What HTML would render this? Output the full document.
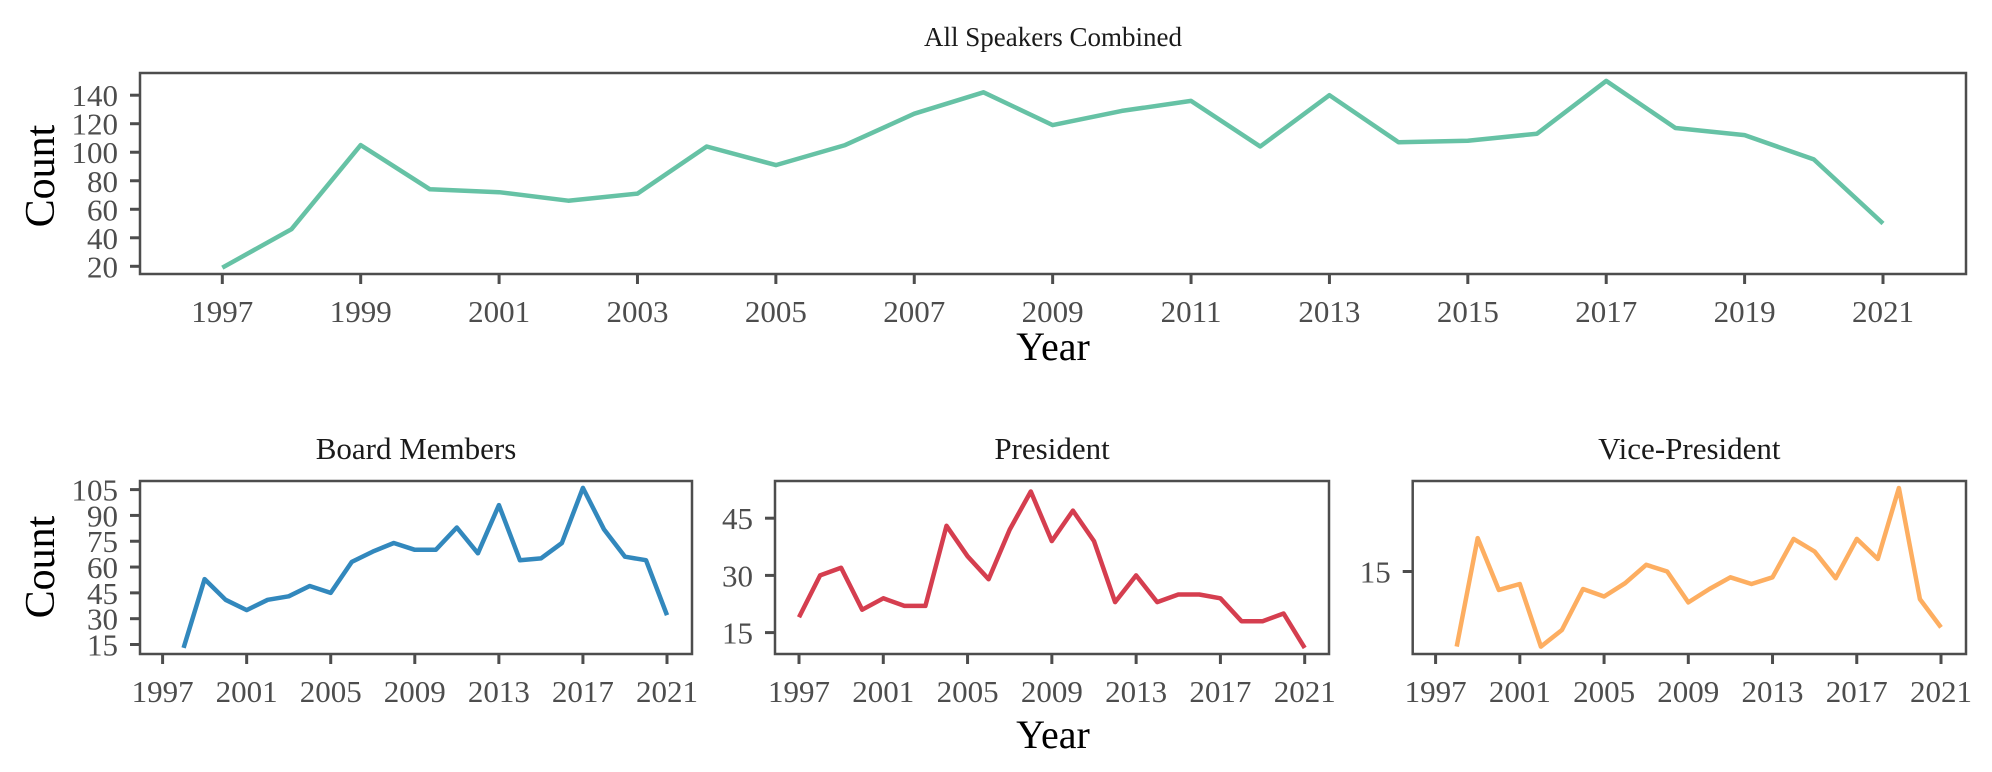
<!DOCTYPE html>
<html><head><meta charset="utf-8"><style>
body{margin:0;background:#fff}
svg{display:block;font-family:"Liberation Serif",serif}
</style></head><body>
<svg id="c" width="1992" height="772" viewBox="0 0 1992 772" xmlns="http://www.w3.org/2000/svg"></svg>
<script>
const years = [1997,1998,1999,2000,2001,2002,2003,2004,2005,2006,2007,2008,2009,2010,2011,2012,2013,2014,2015,2016,2017,2018,2019,2020,2021];
const allValues = [19,46,105,74,72,66,71,104,91,105,127,142,119,129,136,104,140,107,108,113,150,117,112,95,50];
const boardYears = [1998,1999,2000,2001,2002,2003,2004,2005,2006,2007,2008,2009,2010,2011,2012,2013,2014,2015,2016,2017,2018,2019,2020,2021];
const boardValues = [13,53,41,35,41,43,49,45,63,69,74,70,70,83,68,96,64,65,74,106,82,66,64,32];
const presValues = [19,30,32,21,24,22,22,43,35,29,42,52,39,47,39,23,30,23,25,25,24,18,18,20,11];
const viceYears = boardYears;
const viceValues = [6,19,12.8,13.5,6,8,12.9,12,13.6,15.8,15,11.3,12.9,14.3,13.5,14.3,18.9,17.4,14.2,18.9,16.5,25,11.7,8.3];
const topYTicks = [20,40,60,80,100,120,140];
const topXTicks = [1997,1999,2001,2003,2005,2007,2009,2011,2013,2015,2017,2019,2021];
const smallXTicks = [1997,2001,2005,2009,2013,2017,2021];
const boardYTicks = [15,30,45,60,75,90,105];
const presYTicks = [15,30,45];
const viceYTicks = [15];

const NS="http://www.w3.org/2000/svg";
const svg=document.getElementById('c');
function el(tag,attrs,parent){const e=document.createElementNS(NS,tag);for(const k in attrs)e.setAttribute(k,attrs[k]);(parent||svg).appendChild(e);return e;}
function txt(s,attrs,parent){const t=el('text',attrs,parent);t.textContent=s;return t;}

function panel(o){
  const g=el('g',{});
  
  
  const xs=v=>o.x0+(v-o.xv0)*(o.x1-o.x0)/(o.xv1-o.xv0);
  const ys=v=>o.y0+(v-o.yv0)*(o.y1-o.y0)/(o.yv1-o.yv0);
  const t=txt(o.title,{x:(o.L+o.R)/2,y:o.titleY,'text-anchor':'middle','font-size':o.tfs,fill:'#1a1a1a'},g);
  
  
  o.yt.forEach(v=>{
    const y=ys(v);
    el('line',{x1:o.L-10,x2:o.L,y1:y,y2:y,stroke:'#4d4d4d','stroke-width':3},g);
    const l=txt(v,{x:o.L-22,y:y+11,'text-anchor':'end','font-size':31,fill:'#4d4d4d'},g);
    
    
  });
  o.xt.forEach(v=>{
    const x=xs(v);
    el('line',{x1:x,x2:x,y1:o.B,y2:o.B+10,stroke:'#4d4d4d','stroke-width':3},g);
    const l=txt(v,{x:x,y:o.B+48,'text-anchor':'middle','font-size':31,fill:'#4d4d4d'},g);
    
    
  });
  const pts=o.xsD.map((yr,i)=>xs(yr).toFixed(1)+','+ys(o.vals[i]).toFixed(1)).join(' ');
  const line=el('polyline',{points:pts,fill:'none',stroke:o.color,'stroke-width':4.5,'stroke-linejoin':'round'},g);
  
  
  el('rect',{x:o.L,y:o.T,width:o.R-o.L,height:o.B-o.T,fill:'none',stroke:'#4d4d4d','stroke-width':2.5},g);
}

panel({name:'all-speakers-panel',title:'All Speakers Combined',titleY:46,tfs:27,L:140,R:1966,T:73,B:274,
  x0:222.3,x1:1883,xv0:1997,xv1:2021,y0:266.3,y1:95.2,yv0:20,yv1:140,
  yt:topYTicks,xt:topXTicks,xsD:years,vals:allValues,color:'#66c2a5'});
panel({name:'board-members-panel',title:'Board Members',titleY:459,tfs:31,L:140,R:692,T:481,B:654,
  x0:162.6,x1:667,xv0:1997,xv1:2021,y0:644.5,y1:489.6,yv0:15,yv1:105,
  yt:boardYTicks,xt:smallXTicks,xsD:boardYears,vals:boardValues,color:'#3288bd'});
panel({name:'president-panel',title:'President',titleY:459,tfs:31,L:775,R:1329,T:481,B:654,
  x0:799,x1:1304.7,xv0:1997,xv1:2021,y0:632.6,y1:518.2,yv0:15,yv1:45,
  yt:presYTicks,xt:smallXTicks,xsD:years,vals:presValues,color:'#d53e4f'});
panel({name:'vice-president-panel',title:'Vice-President',titleY:459,tfs:31,L:1412.7,R:1966,T:481,B:654,
  x0:1435.6,x1:1941,xv0:1997,xv1:2021,y0:571.5,y1:488,yv0:15,yv1:25,
  yt:viceYTicks,xt:smallXTicks,xsD:viceYears,vals:viceValues,color:'#fdae61'});

let a=txt('Count',{x:0,y:0,'text-anchor':'middle','font-size':42,fill:'#000',transform:'translate(54,176) rotate(-90)'});


a=txt('Count',{x:0,y:0,'text-anchor':'middle','font-size':42,fill:'#000',transform:'translate(54,567) rotate(-90)'});


a=txt('Year',{x:1053,y:360,'text-anchor':'middle','font-size':40,fill:'#000'});


a=txt('Year',{x:1053,y:748,'text-anchor':'middle','font-size':40,fill:'#000'});


</script>
</body></html>
